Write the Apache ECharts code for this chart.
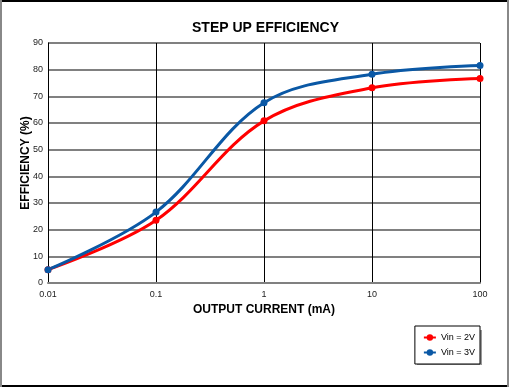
<!DOCTYPE html>
<html><head><meta charset="utf-8">
<script src="https://cdn.jsdelivr.net/npm/echarts@6/dist/echarts.min.js"></script>
<style>html,body{margin:0;padding:0;background:#fff;}#c{width:509px;height:387px;}</style>
</head><body><div id="c"></div>
<script>
const currents = [0.01, 0.1, 1, 10, 100];
const vin2 = [5, 23.5, 60.8, 73.2, 76.7];
const vin3 = [5, 26.6, 67.6, 78.3, 81.6];
const yTicks = [0, 10, 20, 30, 40, 50, 60, 70, 80, 90];
const seriesNames = ['Vin = 2V', 'Vin = 3V'];

const chart = echarts.init(document.getElementById('c'));
const font = 'Arial, "Liberation Sans", sans-serif';
chart.setOption({
  animation: false,
  backgroundColor: '#fff',
  title: {
    text: 'STEP UP EFFICIENCY', left: 187, top: 16,
    textStyle: {fontFamily: font, fontSize: 14, fontWeight: 'bold', color: '#000'}
  },
  graphic: [
    {type: 'line', shape: {x1: 0, y1: 1, x2: 509, y2: 1}, style: {stroke: '#000', lineWidth: 2}},
    {type: 'line', shape: {x1: 0, y1: 386, x2: 509, y2: 386}, style: {stroke: '#000', lineWidth: 2}},
    {type: 'line', shape: {x1: 1, y1: 0, x2: 1, y2: 387}, style: {stroke: '#888', lineWidth: 2}},
    {type: 'line', shape: {x1: 508, y1: 0, x2: 508, y2: 387}, style: {stroke: '#888', lineWidth: 2}},
    {type: 'rect', z: 0, shape: {x: 417, y: 330, width: 65, height: 35}, style: {fill: '#999'}}
  ],
  grid: {left: 48, right: 29, top: 43, bottom: 104},
  legend: {
    data: seriesNames, orient: 'vertical', right: 29, bottom: 23, z: 10,
    itemWidth: 12, itemHeight: 8, itemGap: 6,
    padding: [7, 5, 7, 8],
    borderColor: '#000', borderWidth: 1, backgroundColor: '#fff',
    textStyle: {fontFamily: font, fontSize: 9, color: '#000'}
  },
  xAxis: {
    type: 'log', logBase: 10, min: 0.01, max: 100,
    name: 'OUTPUT CURRENT (mA)', nameLocation: 'middle', nameGap: 21, nameMoveOverlap: false,
    nameTextStyle: {fontFamily: font, fontSize: 12, fontWeight: 'bold', color: '#000'},
    axisLine: {show: true, lineStyle: {color: '#808080', width: 2}},
    axisTick: {show: false},
    axisLabel: {fontFamily: font, fontSize: 9, color: '#222', margin: 7,
      formatter: v => String(Number(v.toPrecision(3)))},
    splitLine: {show: true, lineStyle: {color: '#000', width: 1}},
    minorTick: {show: false}
  },
  yAxis: {
    type: 'value', min: 0, max: 90, interval: 10,
    name: 'EFFICIENCY (%)', nameLocation: 'middle', nameGap: 16, nameMoveOverlap: false,
    nameTextStyle: {fontFamily: font, fontSize: 12, fontWeight: 'bold', color: '#000'},
    axisLine: {show: true, lineStyle: {color: '#000', width: 1}},
    axisTick: {show: false},
    axisLabel: {fontFamily: font, fontSize: 9, color: '#222', margin: 5,
      formatter: v => yTicks.includes(v) ? String(v) : ''},
    splitLine: {show: true, lineStyle: {color: '#808080', width: 2}}
  },
  series: [
    {name: seriesNames[0], type: 'line', smooth: 0.35,
     data: currents.map((c, i) => [c, vin2[i]]),
     symbol: 'circle', symbolSize: 7,
     lineStyle: {color: '#ff0000', width: 3}, itemStyle: {color: '#ff0000'}},
    {name: seriesNames[1], type: 'line', smooth: 0.35,
     data: currents.map((c, i) => [c, vin3[i]]),
     symbol: 'circle', symbolSize: 7,
     lineStyle: {color: '#0a58a5', width: 3}, itemStyle: {color: '#0a58a5'}}
  ]
});
</script></body></html>
